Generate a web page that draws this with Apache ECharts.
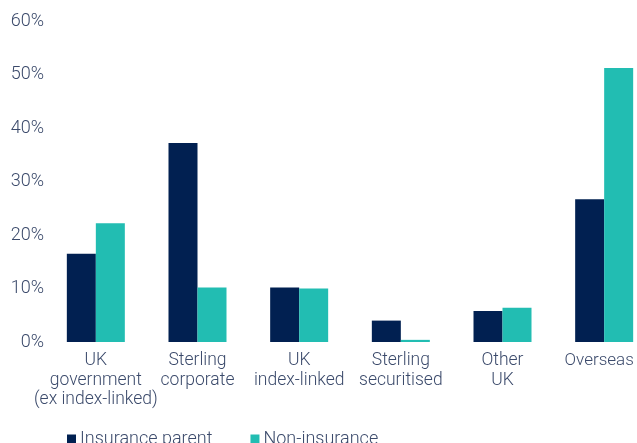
<!DOCTYPE html>
<html><head><meta charset="utf-8">
<script src="https://cdn.jsdelivr.net/npm/echarts@6/dist/echarts.min.js"></script>
<style>html,body{margin:0;padding:0;background:#fff}#c{width:637px;height:443px}</style>
</head><body><div id="c"></div>
<script>
const categories = ['UK\ngovernment\n(ex index-linked)', 'Sterling\ncorporate', 'UK\nindex-linked', 'Sterling\nsecuritised', 'Other\nUK', 'Overseas'];
const insuranceParent = [16.5, 37.2, 10.2, 4.0, 5.8, 26.7];
const nonInsurance = [22.2, 10.2, 10.0, 0.4, 6.4, 51.2];
const yTicks = [0, 10, 20, 30, 40, 50, 60];

const textColor = '#3b4a6b';
const font = 'Roboto';
const chart = echarts.init(document.getElementById('c'), null, {renderer: 'canvas'});
chart.setOption({
  animation: false,
  textStyle: {fontFamily: font},
  grid: {left: 45, width: 610, top: 21, bottom: 101, containLabel: false, outerBoundsMode: 'none'},
  legend: {
    left: 62, top: 425,
    itemWidth: 9, itemHeight: 9, itemGap: 38,
    icon: 'rect',
    textStyle: {color: textColor, fontSize: 18, fontFamily: font, fontWeight: 300, padding: [0, 0, 0, -1]},
    data: ['Insurance parent', 'Non-insurance']
  },
  xAxis: {
    type: 'category',
    data: categories,
    axisLine: {show: false},
    axisTick: {show: false},
    axisLabel: {
      color: textColor, fontSize: 17.5, fontFamily: font, fontWeight: 300, lineHeight: 19.5, margin: 9, interval: 0,
      formatter: function (v, i) { return i === categories.length - 1 ? '{last|' + v + '}' : v; },
      rich: {last: {color: textColor, fontSize: 17, fontFamily: font, fontWeight: 300, lineHeight: 19.5, padding: [0, 10, 0, 0]}}
    }
  },
  yAxis: {
    type: 'value',
    min: yTicks[0], max: yTicks[yTicks.length - 1], interval: 10,
    splitLine: {show: false},
    axisLine: {show: false},
    axisTick: {show: false},
    axisLabel: {color: textColor, fontSize: 18, fontFamily: font, fontWeight: 300, margin: 1, formatter: '{value}%'}
  },
  series: [
    {name: 'Insurance parent', type: 'bar', data: insuranceParent, barWidth: 29, barGap: '0%',
     itemStyle: {color: '#012051'}},
    {name: 'Non-insurance', type: 'bar', data: nonInsurance, barWidth: 29,
     itemStyle: {color: '#22bdb2'}}
  ]
});
</script></body></html>
